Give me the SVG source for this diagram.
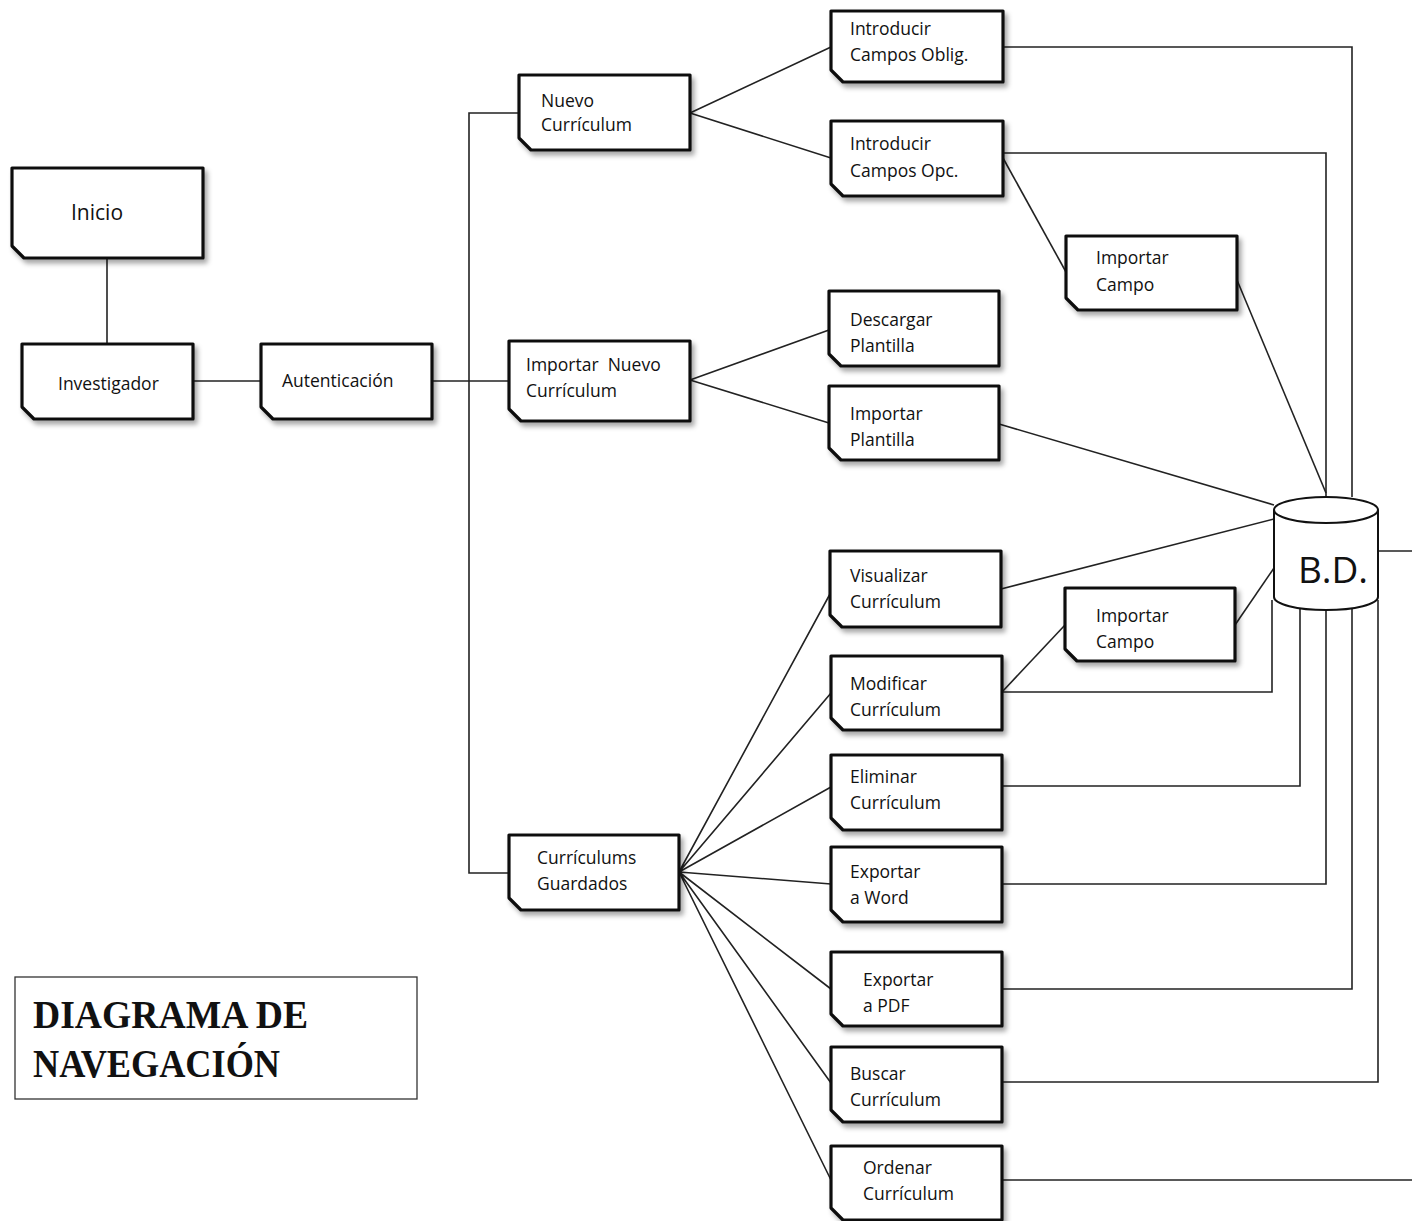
<svg xmlns="http://www.w3.org/2000/svg" width="1412" height="1221" viewBox="0 0 1412 1221">
<style>
.n{fill:#fff;stroke:#111;stroke-width:3.2;stroke-linejoin:round;filter:url(#sh)}
.t{font-family:"Open Sans","Noto Sans",sans-serif;font-size:17.5px;fill:#111;white-space:pre}
.c{fill:none;stroke:#222;stroke-width:1.6}
.ti{font-family:"Liberation Serif",serif;font-weight:bold;font-size:41px;fill:#111}
</style>
<defs>
<filter id="sh" x="-10%" y="-10%" width="125%" height="135%">
<feDropShadow dx="3" dy="4" stdDeviation="2.5" flood-color="#000" flood-opacity="0.35"/>
</filter>
</defs>
<rect width="1412" height="1221" fill="#fff"/>
<g id="connectors">
<path class="c" d="M107 258V344"/>
<path class="c" d="M193 381H261"/>
<path class="c" d="M432 381H509"/>
<path class="c" d="M519 113H469V873H509"/>
<path class="c" d="M690 113L831 47M690 113L831 158"/>
<path class="c" d="M690 380L829 330M690 380L829 423"/>
<path class="c" d="M679 872L830 594M679 872L831 693M679 872L831 787M679 872L831 884M679 872L831 989M679 872L831 1083M679 872L831 1180"/>
<path class="c" d="M1003 47H1352V497"/>
<path class="c" d="M1003 153H1326V497"/>
<path class="c" d="M1003 158L1066 272"/>
<path class="c" d="M1237 280L1326 493"/>
<path class="c" d="M999 424L1274 505"/>
<path class="c" d="M1001 589L1274 519"/>
<path class="c" d="M1235 625L1274 568"/>
<path class="c" d="M1002 692L1065 625"/>
<path class="c" d="M1002 692H1272V600"/>
<path class="c" d="M1002 786H1300V608"/>
<path class="c" d="M1002 884H1326V610"/>
<path class="c" d="M1002 989H1352V608"/>
<path class="c" d="M1002 1082H1378V600"/>
<path class="c" d="M1002 1180H1412"/>
<path class="c" d="M1378 551H1412"/>
</g>
<g id="inicio"><path class="n" d="M12 168H203V258H24L12 246Z"/><text class="t" x="71" y="220" style="font-size:21px">Inicio</text></g>
<g id="investigador"><path class="n" d="M22 344H193V419H34L22 407Z"/><text class="t" x="58" y="390">Investigador</text></g>
<g id="autenticacion"><path class="n" d="M261 344H432V419H273L261 407Z"/><text class="t" x="282" y="387">Autenticación</text></g>
<g id="nuevo"><path class="n" d="M519 75H690V150H531L519 138Z"/><text class="t" x="541" y="107">Nuevo</text><text class="t" x="541" y="131">Currículum</text></g>
<g id="importarNuevo"><path class="n" d="M509 341H690V421H521L509 409Z"/><text class="t" x="526" y="371">Importar  Nuevo</text><text class="t" x="526" y="397">Currículum</text></g>
<g id="guardados"><path class="n" d="M509 835H679V910H521L509 898Z"/><text class="t" x="537" y="864">Currículums</text><text class="t" x="537" y="890">Guardados</text></g>
<g id="oblig"><path class="n" d="M831 11H1003V82H843L831 70Z"/><text class="t" x="850" y="35">Introducir</text><text class="t" x="850" y="61">Campos Oblig.</text></g>
<g id="opc"><path class="n" d="M831 121H1003V196H843L831 184Z"/><text class="t" x="850" y="150">Introducir</text><text class="t" x="850" y="177">Campos Opc.</text></g>
<g id="importarCampo1"><path class="n" d="M1066 236H1237V310H1078L1066 298Z"/><text class="t" x="1096" y="264">Importar</text><text class="t" x="1096" y="291">Campo</text></g>
<g id="descargar"><path class="n" d="M829 291H999V366H841L829 354Z"/><text class="t" x="850" y="326">Descargar</text><text class="t" x="850" y="352">Plantilla</text></g>
<g id="importarPlantilla"><path class="n" d="M829 386H999V460H841L829 448Z"/><text class="t" x="850" y="420">Importar</text><text class="t" x="850" y="446">Plantilla</text></g>
<g id="visualizar"><path class="n" d="M830 551H1001V627H842L830 615Z"/><text class="t" x="850" y="582">Visualizar</text><text class="t" x="850" y="608">Currículum</text></g>
<g id="importarCampo2"><path class="n" d="M1065 588H1235V661H1077L1065 649Z"/><text class="t" x="1096" y="622">Importar</text><text class="t" x="1096" y="648">Campo</text></g>
<g id="modificar"><path class="n" d="M831 656H1002V730H843L831 718Z"/><text class="t" x="850" y="690">Modificar</text><text class="t" x="850" y="716">Currículum</text></g>
<g id="eliminar"><path class="n" d="M831 755H1002V830H843L831 818Z"/><text class="t" x="850" y="783">Eliminar</text><text class="t" x="850" y="809">Currículum</text></g>
<g id="word"><path class="n" d="M831 847H1002V922H843L831 910Z"/><text class="t" x="850" y="878">Exportar</text><text class="t" x="850" y="904">a Word</text></g>
<g id="pdf"><path class="n" d="M831 952H1002V1026H843L831 1014Z"/><text class="t" x="863" y="986">Exportar</text><text class="t" x="863" y="1012">a PDF</text></g>
<g id="buscar"><path class="n" d="M831 1047H1002V1122H843L831 1110Z"/><text class="t" x="850" y="1080">Buscar</text><text class="t" x="850" y="1106">Currículum</text></g>
<g id="ordenar"><path class="n" d="M831 1146H1002V1220H843L831 1208Z"/><text class="t" x="863" y="1174">Ordenar</text><text class="t" x="863" y="1200">Currículum</text></g>
<g id="bd">
<path d="M1274 510V597A52 13 0 0 0 1378 597V510" fill="#fff" stroke="#111" stroke-width="2"/>
<ellipse cx="1326" cy="510" rx="52" ry="13" fill="#fff" stroke="#111" stroke-width="2"/>
<text class="t" x="1333" y="583" text-anchor="middle" style="font-size:37px">B.D.</text>
</g>
<g id="titulo">
<rect x="15" y="977" width="402" height="122" fill="#fff" stroke="#333" stroke-width="1.3"/>
<text class="ti" x="33" y="1028" textLength="275" lengthAdjust="spacingAndGlyphs">DIAGRAMA DE</text>
<text class="ti" x="33" y="1077" textLength="247" lengthAdjust="spacingAndGlyphs">NAVEGACIÓN</text>
</g>
</svg>
